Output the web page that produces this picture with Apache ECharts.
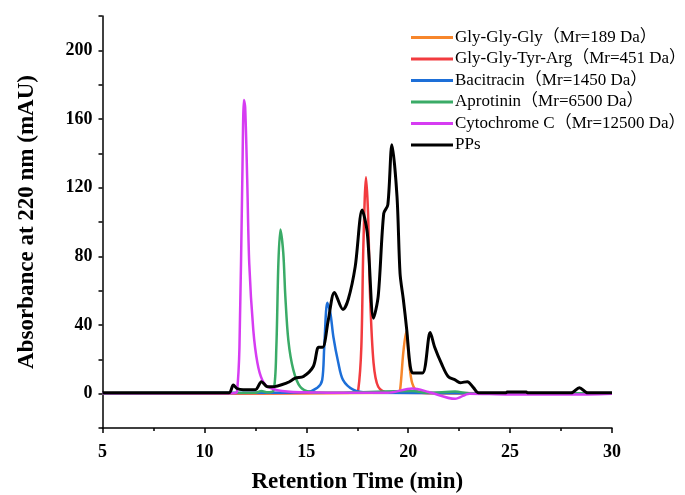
<html>
<head>
<meta charset="utf-8">
<script src="https://cdn.jsdelivr.net/npm/echarts@6/dist/echarts.min.js"></script>
</head>
<body style="margin:0">
<div id="main" style="width:685px;height:495px;"></div>
<script>
// retention time (min) / absorbance (mAU)
const glyT = [5, 19.5, 19.6, 19.76, 19.9, 20.05, 20.2, 20.5, 21, 30];
const glyV = [0, 0.5, 2, 24, 36, 18, 6, 1, 0.3, 0];

const ggtaT = [5, 17.4, 17.55, 17.7, 17.8, 17.93, 18.03, 18.13, 18.3, 18.53, 19, 30];
const ggtaV = [0.2, 0.5, 2.3, 27, 86, 126, 105, 57, 18, 4, 0.6, 0.2];

const baciT = [5, 13, 15, 15.54, 15.78, 15.88, 16.03, 16.18, 16.33, 16.57, 16.8, 17.3, 18, 30];
const baciV = [0.2, 0.5, 1, 3.5, 8, 27, 53, 47, 33, 18, 8, 2.3, 0.6, 0.2];

const aproT = [5, 12.5, 12.8, 13.1, 13.4, 13.53, 13.63, 13.73, 13.87, 13.97, 14.12, 14.36, 14.7, 15.2, 16, 20.2, 21, 22.3, 23, 30];
const aproV = [0.3, 0.5, 1.5, 0.8, 2, 27, 76, 95.6, 82, 57, 31, 14, 4, 1, 0.5, 1.5, 0.5, 1.2, 0.3, 0.3];

const cytoT = [5, 8, 11, 11.5, 11.6, 11.72, 11.86, 11.94, 12.0, 12.1, 12.2, 12.4, 12.6, 12.84, 13.2, 14.07, 16, 19, 20.2, 21, 22.3, 23, 25, 28, 30];
const cytoV = [0.3, 0.3, 0.3, 0.4, 1, 27, 125, 171, 167, 125, 76, 37, 18, 8, 3.5, 1.2, 0.6, 0.5, 3, 1, -3, 0, -0.5, -0.5, 0];

const ppsT = [5, 11.2, 11.42, 11.6, 11.9, 12.5, 12.8, 13.1, 13.3, 14.07, 14.46, 14.86, 15.35, 15.6, 15.8, 16.08, 16.38, 16.8, 17.06, 17.4, 17.74, 17.99, 18.3, 18.53, 18.8, 19.0, 19.2, 19.45, 19.6, 19.76, 19.93, 20.1, 20.25, 20.7, 21.08, 21.3, 21.65, 21.96, 22.3, 22.55, 22.9, 23.2, 23.45, 24.8, 24.85, 25.8, 25.85, 28.0, 28.4, 28.8, 30];
const ppsV = [0.5, 0.5, 5, 3, 2.3, 2.3, 7, 4, 4, 6.4, 9, 10, 16, 27, 27, 43, 59, 49, 55, 74, 107, 94, 44, 57, 105, 110, 145, 115, 70, 55, 37, 16, 12, 12, 35.6, 27, 17, 10, 8, 6.4, 7, 3.5, 0.5, 0.5, 0.9, 0.9, 0.5, 0.5, 3.5, 0.5, 0.5];

const names = ['Gly-Gly-Gly（Mr=189 Da）', 'Gly-Gly-Tyr-Arg（Mr=451 Da）', 'Bacitracin（Mr=1450 Da）',
  'Aprotinin（Mr=6500 Da）', 'Cytochrome C（Mr=12500 Da）', 'PPs'];
const colors = ['#F7862B', '#F23B3F', '#1D6FD8', '#3AAB67', '#D63CF2', '#000000'];
const xs = [glyT, ggtaT, baciT, aproT, cytoT, ppsT];
const ys = [glyV, ggtaV, baciV, aproV, cytoV, ppsV];

const font = '"Liberation Serif", "Times New Roman", "Noto Sans CJK SC", serif';

const series = names.map((n, i) => ({
  name: n,
  type: 'line',
  showSymbol: false,
  smooth: 0.3,
  data: xs[i].map((t, j) => [t, ys[i][j]]),
  lineStyle: { color: colors[i], width: i === 5 ? 3 : 2.5 },
  itemStyle: { color: colors[i] },
  z: i + 2
}));

const chart = echarts.init(document.getElementById('main'));
chart.setOption({
  animation: false,
  backgroundColor: '#fff',
  grid: { left: 102.5, right: 73, top: 16, bottom: 67, outerBoundsMode: 'none', containLabel: false },
  legend: {
    orient: 'vertical',
    left: 406,
    top: 24,
    itemWidth: 42,
    itemHeight: 3,
    itemGap: 4.5,
    icon: 'rect',
    textStyle: { fontFamily: font, fontSize: 17, color: '#000', padding: [0, 0, 0, -3] },
    data: names
  },
  xAxis: {
    type: 'value',
    min: 5, max: 30, interval: 5,
    name: 'Retention Time (min)',
    nameLocation: 'middle',
    nameGap: 43,
    nameTextStyle: { fontFamily: font, fontSize: 23, fontWeight: 'bold', color: '#000' },
    axisLine: { onZero: false, lineStyle: { color: '#000', width: 1.5 } },
    axisTick: { inside: false, length: 5, lineStyle: { color: '#000', width: 1.5 } },
    minorTick: { show: true, splitNumber: 2, length: 3, lineStyle: { color: '#000', width: 1.5 } },
    axisLabel: { fontFamily: font, fontSize: 18, fontWeight: 'bold', color: '#000', margin: 15 },
    splitLine: { show: false }
  },
  yAxis: {
    type: 'value',
    min: -20, max: 220, interval: 20,
    name: 'Absorbance at 220 nm (mAU)',
    nameLocation: 'middle',
    nameGap: 64,
    nameTextStyle: { fontFamily: font, fontSize: 23, fontWeight: 'bold', color: '#000' },
    axisLine: { show: true, lineStyle: { color: '#000', width: 1.5 } },
    axisTick: { show: true, length: 4, lineStyle: { color: '#000', width: 1.5 } },
    axisLabel: {
      fontFamily: font, fontSize: 18, fontWeight: 'bold', color: '#000', margin: 10,
      formatter: v => (v >= 0 && v <= 200 && v % 40 === 0) ? String(v) : ''
    },
    splitLine: { show: false }
  },
  series: series
});
</script>
</body>
</html>
